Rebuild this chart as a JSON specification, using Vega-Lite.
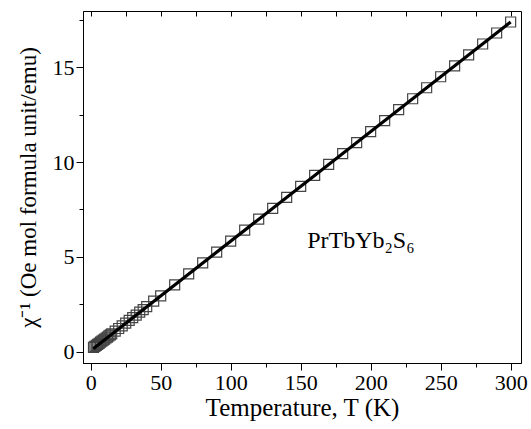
{
  "$schema": "https://vega.github.io/schema/vega-lite/v6.json",
  "width": 438,
  "height": 352,
  "autosize": "none",
  "padding": {"left": 83, "top": 11, "right": 10, "bottom": 66},
  "background": "white",
  "config": {
    "view": {"stroke": "black", "strokeWidth": 1},
    "font": "Liberation Serif",
    "axis": {"labelFont": "Liberation Serif", "titleFont": "Liberation Serif"}
  },
  "resolve": {"axis": {"x": "independent"}},
  "datasets": {
    "pts": [
      {"T": 2, "chi": 0.22}, {"T": 3, "chi": 0.28}, {"T": 4, "chi": 0.33}, {"T": 5, "chi": 0.38},
      {"T": 6, "chi": 0.44}, {"T": 7, "chi": 0.5}, {"T": 8, "chi": 0.55}, {"T": 9, "chi": 0.61},
      {"T": 10, "chi": 0.66}, {"T": 11, "chi": 0.72}, {"T": 12, "chi": 0.77}, {"T": 13, "chi": 0.83},
      {"T": 14, "chi": 0.88}, {"T": 15, "chi": 0.94}, {"T": 17.5, "chi": 1.08}, {"T": 20, "chi": 1.22},
      {"T": 22.5, "chi": 1.36}, {"T": 25, "chi": 1.5}, {"T": 27.5, "chi": 1.65}, {"T": 30, "chi": 1.79},
      {"T": 32.5, "chi": 1.93}, {"T": 35, "chi": 2.08}, {"T": 37.5, "chi": 2.22}, {"T": 40, "chi": 2.37},
      {"T": 45, "chi": 2.66}, {"T": 50, "chi": 2.94}, {"T": 60, "chi": 3.52}, {"T": 70, "chi": 4.1},
      {"T": 80, "chi": 4.68}, {"T": 90, "chi": 5.25}, {"T": 100, "chi": 5.83}, {"T": 110, "chi": 6.41},
      {"T": 120, "chi": 6.99}, {"T": 130, "chi": 7.56}, {"T": 140, "chi": 8.14}, {"T": 150, "chi": 8.72},
      {"T": 160, "chi": 9.3}, {"T": 170, "chi": 9.88}, {"T": 180, "chi": 10.45}, {"T": 190, "chi": 11.03},
      {"T": 200, "chi": 11.61}, {"T": 210, "chi": 12.19}, {"T": 220, "chi": 12.77}, {"T": 230, "chi": 13.34},
      {"T": 240, "chi": 13.92}, {"T": 250, "chi": 14.5}, {"T": 260, "chi": 15.08}, {"T": 270, "chi": 15.66},
      {"T": 280, "chi": 16.23}, {"T": 290, "chi": 16.81}, {"T": 300, "chi": 17.39}
    ],
    "fit": [
      {"T": 1.8, "chi": 0.15},
      {"T": 300, "chi": 17.39}
    ],
    "label": [
      {"T": 193, "chi": 5.85, "text": "PrTbYb₂S₆"}
    ]
  },
  "layer": [
    {
      "data": {"name": "pts"},
      "mark": {"type": "point", "shape": "square", "filled": false, "size": 100, "stroke": "#444", "strokeWidth": 1.2, "opacity": 1},
      "encoding": {
        "x": {
          "field": "T", "type": "quantitative",
          "scale": {"domain": [-5.5, 307.4], "nice": false, "zero": false},
          "axis": {
            "orient": "bottom",
            "values": [0, 25, 50, 75, 100, 125, 150, 175, 200, 225, 250, 275, 300],
            "labelExpr": "datum.value % 50 === 0 ? datum.label : ''",
            "title": "Temperature, T (K)",
            "titleFont": "Liberation Serif", "titleFontSize": 25, "titleFontWeight": "normal", "titleColor": "black",
            "titlePadding": 2,
            "labelFont": "Liberation Serif", "labelFontSize": 22, "labelColor": "black", "labelPadding": 2,
            "labelFlush": false,
            "tickSize": {"condition": {"test": "datum.value % 50 === 0", "value": 7}, "value": 4},
            "tickColor": "black", "domainColor": "black", "grid": false
          }
        },
        "y": {
          "field": "chi", "type": "quantitative",
          "scale": {"domain": [-0.6, 17.97], "nice": false, "zero": false},
          "axis": {
            "values": [0, 2.5, 5, 7.5, 10, 12.5, 15, 17.5],
            "labelExpr": "datum.value % 5 === 0 ? datum.label : ''",
            "title": "χ⁻¹ (Oe mol formula unit/emu)",
            "titleFont": "Liberation Serif", "titleFontSize": 23, "titleFontWeight": "normal", "titleColor": "black",
            "titlePadding": 12,
            "labelFont": "Liberation Serif", "labelFontSize": 22, "labelColor": "black", "labelPadding": 2,
            "labelFlush": false,
            "tickSize": {"condition": {"test": "datum.value % 5 === 0", "value": 7}, "value": 4},
            "tickColor": "black", "domainColor": "black", "grid": false
          }
        }
      }
    },
    {
      "data": {"name": "fit"},
      "mark": {"type": "line", "color": "black", "strokeWidth": 3.2},
      "encoding": {
        "x": {"field": "T", "type": "quantitative", "axis": null},
        "y": {"field": "chi", "type": "quantitative"}
      }
    },
    {
      "data": {"name": "label"},
      "mark": {"type": "text", "font": "Liberation Serif", "fontSize": 24, "color": "black", "align": "center", "baseline": "middle"},
      "encoding": {
        "x": {
          "field": "T", "type": "quantitative",
          "axis": {
            "orient": "top",
            "offset": -5,
            "values": [0, 25, 50, 75, 100, 125, 150, 175, 200, 225, 250, 275, 300],
            "labelExpr": "''", "title": "", "domain": false, "ticks": true,
            "tickSize": 5, "tickColor": "black", "tickWidth": 1, "grid": false
          }
        },
        "y": {"field": "chi", "type": "quantitative"},
        "text": {"field": "text"}
      }
    }
  ]
}
